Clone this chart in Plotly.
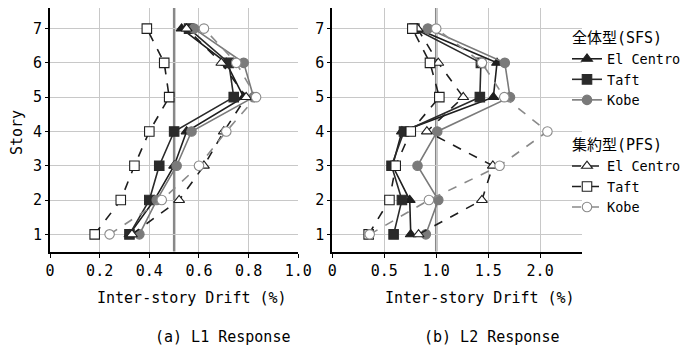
import plotly.graph_objects as go

W, H = 681, 351

stories = [1, 2, 3, 4, 5, 6, 7]

# L1 response (left)
l1_sfs_elcentro = [0.32, 0.42, 0.50, 0.55, 0.78, 0.71, 0.53]
l1_sfs_taft     = [0.32, 0.40, 0.44, 0.50, 0.74, 0.72, 0.56]
l1_sfs_kobe     = [0.36, 0.43, 0.51, 0.57, 0.82, 0.78, 0.58]
l1_pfs_elcentro = [0.33, 0.52, 0.62, 0.70, 0.79, 0.69, 0.55]
l1_pfs_taft     = [0.18, 0.285, 0.34, 0.40, 0.48, 0.46, 0.39]
l1_pfs_kobe     = [0.24, 0.45, 0.60, 0.71, 0.83, 0.75, 0.62]

# L2 response (right)
l2_sfs_elcentro = [0.755, 0.745, 0.58, 0.67, 1.55, 1.585, 0.81]
l2_sfs_taft     = [0.59, 0.67, 0.57, 0.69, 1.42, 1.43, 0.79]
l2_sfs_kobe     = [0.90, 1.02, 0.82, 1.01, 1.71, 1.66, 0.92]
l2_pfs_elcentro = [0.83, 1.44, 1.545, 0.91, 1.26, 1.02, 0.82]
l2_pfs_taft     = [0.35, 0.55, 0.61, 0.755, 1.03, 0.94, 0.77]
l2_pfs_kobe     = [0.36, 0.93, 1.61, 2.07, 1.655, 1.44, 1.00]

l1_ticks = [0, 0.2, 0.4, 0.6, 0.8, 1.0]
l1_ticktext = ["0", "0.2", "0.4", "0.6", "0.8", "1.0"]
l2_ticks = [0, 0.5, 1.0, 1.5, 2.0]
l2_ticktext = ["0", "0.5", "1.0", "1.5", "2.0"]
l1_limit = 0.5
l2_limit = 1.0

names = ["El Centro", "Taft", "Kobe"]
group_titles = ["全体型(SFS)", "集約型(PFS)"]

FONT = "DejaVu Sans Mono, Noto Sans CJK JP"

def px(x):
    return x / W

def py(y):
    return 1 - y / H

fig = go.Figure()

styles = [
    # (group, name, symbol, line color, marker fill, dash)
    ("SFS", names[0], "triangle-up", "#1e1e1e", "#1e1e1e", "solid"),
    ("SFS", names[1], "square", "#2a2a2a", "#2a2a2a", "solid"),
    ("SFS", names[2], "circle", "#7a7a7a", "#7a7a7a", "solid"),
    ("PFS", names[0], "triangle-up", "#1e1e1e", "white", "dash"),
    ("PFS", names[1], "square", "#1e1e1e", "white", "dash"),
    ("PFS", names[2], "circle", "#8a8a8a", "white", "dash"),
]
l1_data = [l1_sfs_elcentro, l1_sfs_taft, l1_sfs_kobe, l1_pfs_elcentro, l1_pfs_taft, l1_pfs_kobe]
l2_data = [l2_sfs_elcentro, l2_sfs_taft, l2_sfs_kobe, l2_pfs_elcentro, l2_pfs_taft, l2_pfs_kobe]

for i, (grp, name, sym, lc, fill, dash) in enumerate(styles):
    for j, (data, xa, ya) in enumerate([(l1_data[i], "x", "y"), (l2_data[i], "x2", "y2")]):
        kw = {}
        if j == 0 and i in (0, 3):
            kw["legendgrouptitle_text"] = group_titles[0 if grp == "SFS" else 1]
        fig.add_trace(go.Scatter(
            x=data, y=stories, xaxis=xa, yaxis=ya,
            mode="lines+markers", name=name,
            legendgroup=grp, showlegend=(j == 0),
            line=dict(color=lc, width=1.6, dash=dash),
            marker=dict(symbol=sym, size=9.5,
                        color=fill, line=dict(color=lc, width=1.1)),
            cliponaxis=False,
            **kw,
        ))

ydom = [py(251.5), py(8)]
common_y = dict(range=[0.5, 7.6], tickvals=stories, showgrid=True, gridcolor="#c8c8c8",
                gridwidth=1, showline=True, linecolor="black", linewidth=2,
                ticks="outside", ticklen=3, tickcolor="black", zeroline=False,
                tickfont=dict(family=FONT, size=15, color="black"), domain=ydom)

fig.update_layout(
    width=W, height=H,
    margin=dict(l=0, r=0, t=0, b=0, autoexpand=False),
    paper_bgcolor="white", plot_bgcolor="white",
    font=dict(family=FONT, size=15, color="black"),
    xaxis=dict(domain=[px(50), px(298.3)], range=[0, 1.0], tickvals=l1_ticks, ticktext=l1_ticktext,
               showgrid=True, gridcolor="#c8c8c8", gridwidth=1, showline=True, linecolor="black",
               linewidth=2, ticks="outside", ticklen=4, tickcolor="black", zeroline=False,
               tickfont=dict(family=FONT, size=15, color="black"), anchor="y"),
    yaxis=dict(anchor="x", **common_y),
    xaxis2=dict(domain=[px(332.3), px(581.7)], range=[0, 2.4], tickvals=l2_ticks, ticktext=l2_ticktext,
                showgrid=True, gridcolor="#c8c8c8", gridwidth=1, showline=True, linecolor="black",
                linewidth=2, ticks="outside", ticklen=4, tickcolor="black", zeroline=False,
                tickfont=dict(family=FONT, size=15, color="black"), anchor="y2"),
    yaxis2=dict(anchor="x2", **common_y),
    legend=dict(x=px(567), y=py(21), xref="container", yref="container",
                xanchor="left", yanchor="top", maxheight=320,
                font=dict(family=FONT, size=13.5, color="black"),
                grouptitlefont=dict(family=FONT, size=15, color="black"),
                tracegroupgap=23, itemwidth=30, bgcolor="rgba(0,0,0,0)",
                borderwidth=0),
    showlegend=True,
)

fig.add_shape(type="line", xref="x", yref="paper", x0=l1_limit, x1=l1_limit,
              y0=ydom[0], y1=ydom[1], line=dict(color="#888888", width=2.5), layer="below")
fig.add_shape(type="line", xref="x2", yref="paper", x0=l2_limit, x1=l2_limit,
              y0=ydom[0], y1=ydom[1], line=dict(color="#888888", width=2.5), layer="below")

annos = [
    dict(text="Story", x=px(17), y=py(133), textangle=-90),
    dict(text="Inter-story Drift (%)", x=px(192), y=py(298)),
    dict(text="Inter-story Drift (%)", x=px(480), y=py(298)),
    dict(text="(a) L1 Response", x=px(222), y=py(337)),
    dict(text="(b) L2 Response", x=px(492), y=py(337)),
]
for a in annos:
    fig.add_annotation(xref="paper", yref="paper", showarrow=False,
                       xanchor="center", yanchor="middle",
                       font=dict(family=FONT, size=15, color="black"), **a)

fig.write_html("out.html")
